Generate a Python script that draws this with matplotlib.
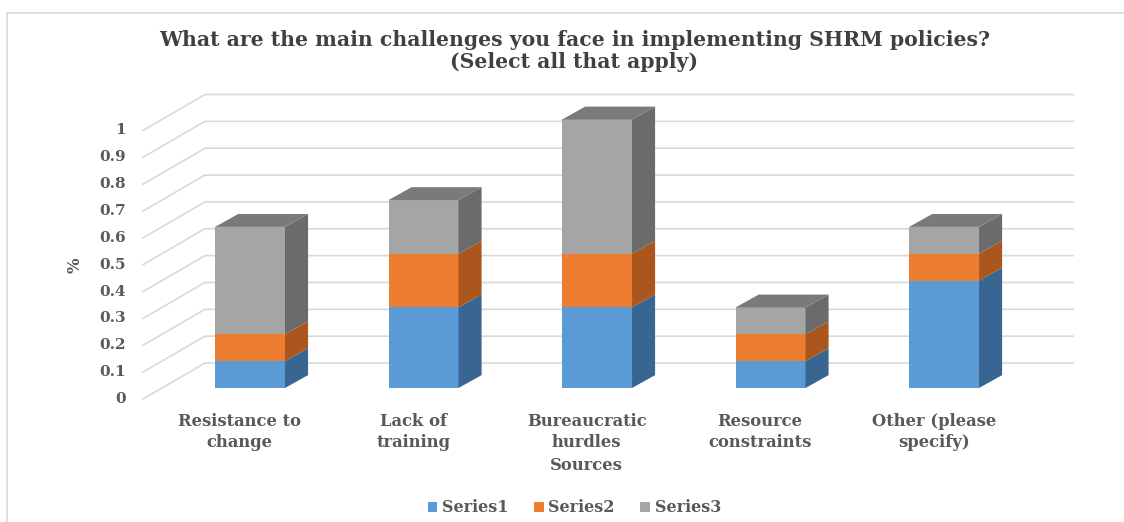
import matplotlib
matplotlib.use('Agg')
import matplotlib.pyplot as plt
from matplotlib.patches import Polygon, Patch
from matplotlib.lines import Line2D

categories = ['Resistance to\nchange', 'Lack of\ntraining', 'Bureaucratic\nhurdles',
              'Resource\nconstraints', 'Other (please\nspecify)']
series_names = ['Series1', 'Series2', 'Series3']
series1 = [0.1, 0.3, 0.3, 0.1, 0.4]
series2 = [0.1, 0.2, 0.2, 0.1, 0.1]
series3 = [0.4, 0.2, 0.5, 0.1, 0.1]
y_ticks = [0, 0.1, 0.2, 0.3, 0.4, 0.5, 0.6, 0.7, 0.8, 0.9, 1]
y_tick_labels = ['0', '0.1', '0.2', '0.3', '0.4', '0.5', '0.6', '0.7', '0.8', '0.9', '1']

front_colors = ['#5b9bd5', '#ed7d31', '#a5a5a5']
side_colors = ['#386592', '#ab561d', '#6b6b6b']
top_colors = ['#4a7fb0', '#c8672a', '#7a7a7a']

FONT = 'DejaVu Serif'
TEXT = '#595959'
GRID = '#d9d9d9'

# fake 3d geometry, in data units (x: category, y: value)
BAR_W = 0.403
BAR_DX, BAR_DY = 0.133, 0.048
WALL_LEFT_FRONT, WALL_LEFT_BACK, WALL_RIGHT = -0.617, -0.260, 4.744
WALL_FRONT_Y, WALL_BACK_Y = -0.041, 0.093

fig = plt.figure(figsize=(11.24, 5.22), dpi=100)
ax = fig.add_axes([0, 0, 1, 1])
ax.set_xlim(-1.441, 5.037)
ax.set_ylim(-0.499, 1.445)
ax.axis('off')

# chart border
ax.add_line(Line2D([-1.40, 5.037], [1.398, 1.398], color=GRID, lw=1.2))
ax.add_line(Line2D([-1.40, -1.40], [1.398, -0.499], color=GRID, lw=1.2))

# side wall diagonals + back wall gridlines
for v, lab in zip(y_ticks, y_tick_labels):
    ax.plot([WALL_LEFT_FRONT, WALL_LEFT_BACK, WALL_RIGHT],
            [v + WALL_FRONT_Y, v + WALL_BACK_Y, v + WALL_BACK_Y],
            color=GRID, lw=1.2, zorder=1, solid_joinstyle='miter')
    ax.text(WALL_LEFT_FRONT - 0.1, v + WALL_FRONT_Y, lab, ha='right', va='center',
            fontsize=11, fontweight='bold', family=FONT, color=TEXT)

# stacked bars with side and top faces
stacks = [series1, series2, series3]
x = list(range(len(categories)))
bottoms = [0.0] * len(categories)
for s, vals in enumerate(stacks):
    ax.bar(x, vals, bottom=bottoms, width=BAR_W, color=front_colors[s], zorder=3,
           linewidth=0)
    for i, (b, h) in enumerate(zip(bottoms, vals)):
        r = x[i] + BAR_W / 2
        t = b + h
        ax.add_patch(Polygon([(r, b), (r + BAR_DX, b + BAR_DY), (r + BAR_DX, t + BAR_DY), (r, t)],
                             closed=True, facecolor=side_colors[s], lw=0, zorder=3))
        if s == len(stacks) - 1:
            l = x[i] - BAR_W / 2
            ax.add_patch(Polygon([(l, t), (l + BAR_DX, t + BAR_DY), (r + BAR_DX, t + BAR_DY), (r, t)],
                                 closed=True, facecolor=top_colors[s], lw=0, zorder=3))
    bottoms = [b + h for b, h in zip(bottoms, vals)]

# category labels
for i, cat in enumerate(categories):
    ax.text(x[i] - 0.06, -0.092, cat, ha='center', va='top', fontsize=11.8,
            fontweight='bold', family=FONT, color=TEXT, linespacing=1.3)

ax.text(1.94, -0.287, 'Sources', ha='center', va='center', fontsize=11.8,
        fontweight='bold', family=FONT, color=TEXT)
ax.text(-1.009, 0.458, '%', ha='center', va='center', rotation=90, fontsize=11.8,
        fontweight='bold', family=FONT, color=TEXT)

fig.text(0.511, 0.902, 'What are the main challenges you face in implementing SHRM policies?\n(Select all that apply)',
         ha='center', va='center', fontsize=14.7, fontweight='bold', family=FONT,
         color='#404040', linespacing=1.1)

handles = [Patch(facecolor=c, label=n) for c, n in zip(front_colors, series_names)]
fig.legend(handles=handles, loc='center', bbox_to_anchor=(0.511, 0.027), ncol=3,
           frameon=False, handlelength=0.6, handleheight=0.6, handletextpad=0.3,
           columnspacing=1.6, prop={'family': FONT, 'weight': 'bold', 'size': 11.5},
           labelcolor=TEXT)

fig.savefig('out.png', dpi=100, facecolor='white')
